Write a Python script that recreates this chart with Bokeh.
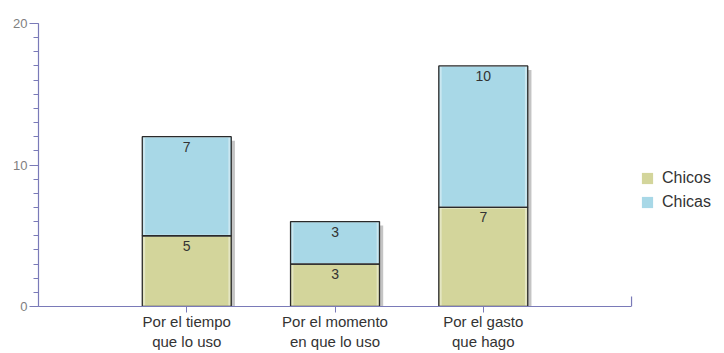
from bokeh.plotting import figure
from bokeh.models import (ColumnDataSource, Range1d, FixedTicker, SingleIntervalTicker,
                          Legend, LegendItem, LabelSet)
from bokeh.core.properties import value
from bokeh.embed import file_html
from bokeh.resources import INLINE

categories = ["Por el tiempo\nque lo uso", "Por el momento\nen que lo uso", "Por el gasto\nque hago"]
chicos = [5, 3, 7]
chicas = [7, 3, 10]
series_names = ["Chicos", "Chicas"]

FONT = "Liberation Sans"
C_CHICOS = "#d3d59b"
C_CHICAS = "#a8d8e7"
AXIS_C = "#7a7ab8"

xs = list(range(1, len(categories) + 1))
tops_chicas = [a + b for a, b in zip(chicos, chicas)]
src = ColumnDataSource(dict(
    x=xs, chicos=chicos, chicas=chicas, top2=tops_chicas,
    zero=[0] * len(xs),
    xs_sh=[x + 0.025 for x in xs],
    top_sh=[t - 0.28 for t in tops_chicas],
    bot_sh=[-0.28] * len(xs),
    lab_chicos=[str(v) for v in chicos],
    lab_chicas=[str(v) for v in chicas],
))

p = figure(width=724, height=353, output_backend="svg", toolbar_location=None,
           x_range=Range1d(0, 4.627), y_range=Range1d(0, 20),
           min_border_left=38, min_border_right=0, min_border_top=23, min_border_bottom=47)
p.outline_line_color = None
p.xgrid.grid_line_color = None
p.ygrid.grid_line_color = None
p.background_fill_color = "white"

# shadows
p.vbar(x="xs_sh", bottom="bot_sh", top="top_sh", width=0.6, source=src,
       fill_color="#555555", fill_alpha=0.35, line_color=None)
# bar fills
p.vbar(x="x", bottom="zero", top="chicos", width=0.6, source=src,
       fill_color=C_CHICOS, line_color=None)
p.vbar(x="x", bottom="chicos", top="top2", width=0.6, source=src,
       fill_color=C_CHICAS, line_color=None)
# inner bevel highlights
p.vbar(x="x", bottom="zero", top="chicos", width=0.575, source=src,
       fill_color=None, line_color="white", line_alpha=0.4, line_width=2)
p.vbar(x="x", bottom="chicos", top="top2", width=0.575, source=src,
       fill_color=None, line_color="white", line_alpha=0.4, line_width=2)
# outlines
p.vbar(x="x", bottom="zero", top="chicos", width=0.6, source=src,
       fill_color=None, line_color="#2a2a2a", line_width=1.3)
p.vbar(x="x", bottom="chicos", top="top2", width=0.6, source=src,
       fill_color=None, line_color="#2a2a2a", line_width=1.3)

for col_y, col_t in (("chicos", "lab_chicos"), ("top2", "lab_chicas")):
    p.add_layout(LabelSet(x="x", y=col_y, text=col_t, source=src,
                          text_align="center", text_baseline="top", y_offset=-5,
                          text_font=value(FONT), text_font_size="14px", text_color="#333333"))

# axis end tick
p.segment(x0=[len(categories) + 1], x1=[len(categories) + 1], y0=[0], y1=[0.7],
          line_color=AXIS_C, line_width=1.2)

# y axis
ya = p.yaxis[0]
ya.ticker = SingleIntervalTicker(interval=10, num_minor_ticks=10)
ya.axis_line_color = AXIS_C
ya.major_tick_line_color = AXIS_C
ya.minor_tick_line_color = AXIS_C
ya.major_tick_out = 9
ya.major_tick_in = 0
ya.minor_tick_out = 5
ya.minor_tick_in = 0
ya.axis_line_width = 1.2
ya.major_label_text_font = FONT
ya.major_label_text_font_size = "13px"
ya.major_label_text_color = "#808080"
ya.major_label_standoff = 2
ya.bounds = (-0.7, 20)

# x axis
xa = p.xaxis[0]
xa.ticker = FixedTicker(ticks=xs)
xa.major_label_overrides = {x: c for x, c in zip(xs, categories)}
xa.bounds = (0, len(categories) + 1)
xa.axis_line_color = AXIS_C
xa.axis_line_width = 1.2
xa.major_tick_line_color = AXIS_C
xa.major_tick_out = 6
xa.major_tick_in = 0
xa.minor_tick_line_color = None
xa.major_label_text_font = FONT
xa.major_label_text_font_size = "15px"
xa.major_label_text_color = "#333333"
xa.major_label_standoff = 0

# legend (off-screen proxy glyphs without borders)
lg1 = p.quad(left=[-10], right=[-9], top=[-10], bottom=[-11], fill_color=C_CHICOS, line_color=None)
lg2 = p.quad(left=[-10], right=[-9], top=[-10], bottom=[-11], fill_color=C_CHICAS, line_color=None)
legend = Legend(items=[LegendItem(label=series_names[0], renderers=[lg1]),
                       LegendItem(label=series_names[1], renderers=[lg2])],
                location=(602, 95), orientation="vertical",
                glyph_width=14, glyph_height=14, label_height=14, spacing=6,
                label_standoff=8, padding=0, margin=0,
                border_line_color=None, background_fill_alpha=0,
                label_text_font=FONT, label_text_font_size="16px", label_text_color="#333333")
p.add_layout(legend, "center")

open("out.html", "w").write(file_html(p, INLINE))
